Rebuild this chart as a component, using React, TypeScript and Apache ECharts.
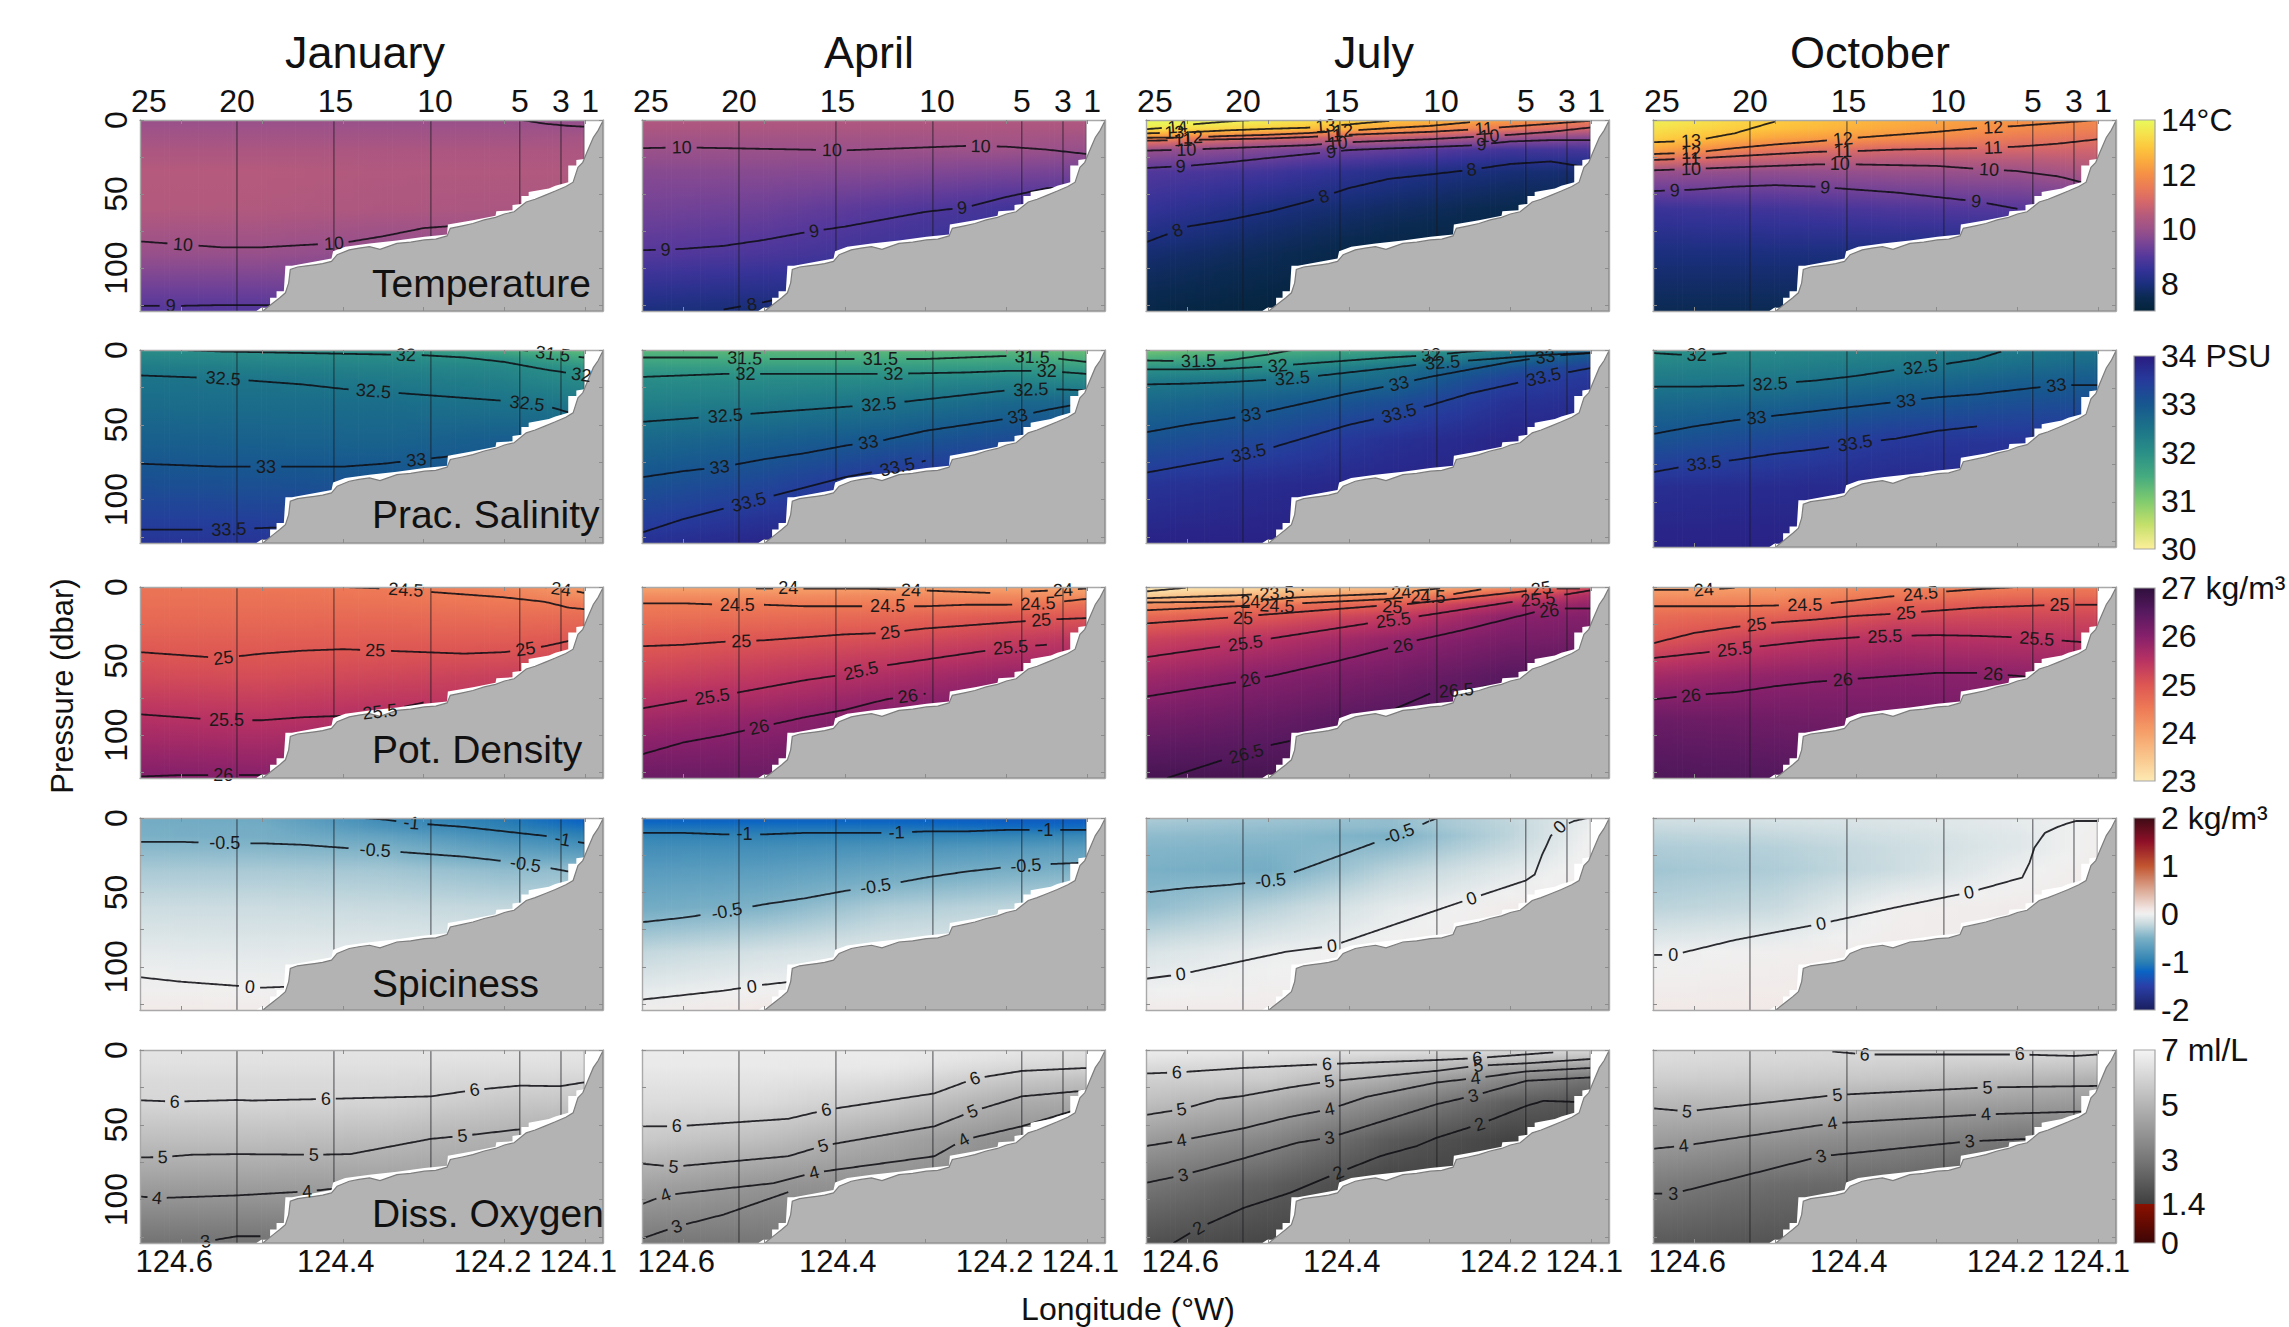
import React, { useEffect, useRef } from "react";
import * as echarts from "echarts";

const FONT = '"Liberation Sans", Arial, sans-serif';
const BASE = 124;
const LON_MIN = 124.078;
const LON_MAX = 124.651;
const P_MAX = 129;

const months = ["January", "April", "July", "October"];
const variables = ["Temperature", "Prac. Salinity", "Pot. Density", "Spiciness", "Diss. Oxygen"];
const lonTicks = [124.6, 124.5, 124.4, 124.3, 124.2, 124.1];
const lonLabels = [124.6, 124.4, 124.206, 124.1];
const stationLons = [124.64, 124.531, 124.409, 124.286, 124.181, 124.13, 124.094];
const stationNames = ["25", "20", "15", "10", "5", "3", "1"];
const stationLines = [124.531, 124.411, 124.291, 124.181, 124.13, 124.101];
const pTicks = [0, 25, 50, 75, 100, 125];
const pLabels = [0, 50, 100];

// seafloor (offset lon, dbar)
const bathyLon = [.499,.486,.478,.471,.467,.465,.456,.445,.435,.425,.414,.407,.392,.38,.367,.354,.333,.316,.299,.285,.271,.267,.252,.239,.225,.211,.2,.188,.173,.162,.15,.137,.124,.115,.109,.103,.098,.09,.084,.078];
const bathyP = [129,123.4,120,116.7,110,101,99.3,98.5,97.8,97,95.5,91,87.7,86.5,85.5,87.3,83.3,82.5,81,80.5,78.3,73.2,71.5,69.9,67.5,65.8,63.5,62,55.4,53.5,50.9,48,44.9,42,32,28.6,22,11.8,7,.5];
// stepped edge of the gridded data (offset lon, dbar)
const maskLon = [.507,.501,.49,.49,.482,.482,.473,.471,.463,.414,.412,.397,.367,.333,.299,.271,.27,.239,.211,.21,.19,.19,.179,.179,.17,.17,.145,.137,.121,.121,.111,.111,.101,.101];
const maskP = [129,126.8,126.8,120,120,115.6,115.6,98.4,98.4,93.6,88.6,85.6,83.4,81.4,78.9,77.4,70.6,67.7,64.6,61.6,61,57.4,56.7,51.4,51.4,48.6,46.2,44.4,42,30.8,30.8,27,26.3,0];

// field table axes
const fieldDepths = [0, 6, 12, 20, 35, 60, 90, 129];
const fieldLons = [.651, .5, .35, .2, .08];

const tempJan = [[9.95,9.95,9.95,9.95,9.85],[10.05,10.05,10.05,10.05,10],[10.15,10.15,10.15,10.15,10.2],[10.3,10.3,10.3,10.3,10.3],[10.5,10.5,10.42,10.42,10.42],[10.45,10.42,10.35,10.3,10.3],[9.95,9.95,9.8,9.8,9.8],[8.95,8.95,9,9,9]];
const tempApr = [[10.4,10.4,10.4,10.4,10.4],[10.3,10.3,10.3,10.3,10.3],[10.15,10.15,10.15,10.2,10.1],[10,10,10,10.05,9.9],[9.7,9.7,9.65,9.5,9.4],[9.4,9.3,9,8.7,8.7],[9,8.85,8.6,8.4,8.4],[8,7.9,8,8,8]];
const tempJul = [[14.3,13.8,13,12.3,11.5],[13.5,13.1,12.3,11.4,10.8],[12,11,10.7,10,9.6],[10,9.6,9.2,8.7,8.8],[8.95,8.7,8.2,7.9,7.8],[8.5,8,7.7,7.4,7.4],[7.85,7.55,7.2,7.1,7.1],[7.3,7.1,7,7,7]];
const tempOct = [[13.8,13.1,12.6,12.1,11.8],[13.5,12.9,12.4,11.9,11.6],[13.2,12.4,12,11.5,11.3],[12.4,11.4,11,11,10.9],[9.95,9.85,9.95,10,10.4],[8.6,8.7,8.9,9,9],[8,8,8,8,8],[7.5,7.5,7.5,7.5,7.5]];

const salJan = [[32.05,32,31.95,31.5,31.2],[32.2,32.15,32.1,31.95,31.5],[32.35,32.3,32.25,32.15,31.9],[32.5,32.48,32.38,32.28,32.05],[32.62,32.6,32.6,32.5,32.4],[32.85,32.82,32.78,32.9,32.9],[33.15,33.12,33.1,33.1,33.1],[33.6,33.6,33.5,33.5,33.5]];
const salApr = [[31.3,31.3,31.3,31.3,31.2],[31.55,31.5,31.5,31.55,31.4],[31.8,31.8,31.8,31.85,31.75],[32.05,32.08,32.1,32.2,32.1],[32.28,32.35,32.48,32.7,32.75],[32.7,32.85,33,33.2,33.3],[33.1,33.3,33.65,33.7,33.7],[33.65,33.85,33.9,33.9,33.9]];
const salJul = [[31.1,31.4,31.7,32.3,32.9],[31.45,31.75,32.05,32.65,33.2],[31.95,32.05,32.5,33.1,33.5],[32.35,32.5,32.7,33.4,33.6],[32.7,32.9,33.15,33.65,33.7],[33.1,33.3,33.65,33.85,33.85],[33.6,33.75,33.85,33.9,33.9],[33.9,33.9,33.9,33.9,33.9]];
const salOct = [[32,32.1,32.2,32.4,32.55],[32.1,32.2,32.3,32.5,32.65],[32.25,32.3,32.45,32.65,32.8],[32.4,32.45,32.65,32.85,32.95],[32.7,32.8,33,33.15,33.2],[33.1,33.3,33.55,33.6,33.6],[33.7,33.75,33.8,33.8,33.8],[33.9,33.9,33.9,33.9,33.9]];

const denJan = [[24.6,24.55,24.5,24.3,24],[24.62,24.6,24.55,24.45,24.2],[24.66,24.65,24.62,24.55,24.5],[24.72,24.72,24.72,24.68,24.7],[24.88,24.88,24.9,24.9,25],[25.15,25.12,25.2,25.3,25.4],[25.55,25.5,25.6,25.6,25.6],[26.05,26,26,26,26]];
const denApr = [[23.95,23.95,24,23.95,23.9],[24.25,24.25,24.3,24.3,24.2],[24.5,24.5,24.5,24.55,24.7],[24.62,24.67,24.75,24.95,25],[24.9,25,25.1,25.3,25.5],[25.25,25.4,25.6,25.85,25.9],[25.75,25.9,26.1,26.25,26.3],[26.3,26.3,26.4,26.5,26.5]];
const denJul = [[22.9,23.2,23.6,24.2,25.4],[23.4,23.8,24.25,25.05,25.75],[24.2,24.55,24.9,25.6,25.95],[24.75,25,25.35,25.95,26.05],[25.25,25.5,25.85,26.15,26.2],[25.75,26,26.2,26.5,26.5],[26.2,26.35,26.55,26.6,26.6],[26.7,26.7,26.7,26.7,26.7]];
const denOct = [[23.95,24.05,24.35,24.45,24.5],[24.2,24.25,24.55,24.7,24.7],[24.45,24.5,24.85,25,25],[24.7,24.85,25.15,25.2,25.2],[24.97,25.35,25.55,25.5,25.45],[25.7,25.9,25.98,25.95,25.9],[26.3,26.25,26.2,26.2,26.2],[26.6,26.55,26.5,26.5,26.5]];

const spiJan = [[-.55,-.58,-.9,-1.05,-1.3],[-.52,-.54,-.8,-.98,-1.15],[-.5,-.52,-.65,-.85,-1],[-.44,-.46,-.5,-.7,-.8],[-.32,-.32,-.34,-.42,-.4],[-.18,-.18,-.2,-.22,-.2],[-.06,-.07,-.06,-.06,-.06],[.06,.05,.05,.05,.05]];
const spiApr = [[-1.25,-1.25,-1.25,-1.3,-1.3],[-1.1,-1.1,-1.1,-1.15,-1.15],[-.95,-.97,-.95,-.95,-.9],[-.85,-.85,-.8,-.75,-.7],[-.72,-.7,-.6,-.52,-.48],[-.55,-.48,-.3,-.24,-.2],[-.22,-.14,-.08,-.08,-.08],[.03,.08,.05,.05,.05]];
const spiJul = [[-.3,-.35,-.4,-.22,0],[-.36,-.4,-.42,-.24,.03],[-.42,-.44,-.5,-.24,.05],[-.46,-.48,-.42,-.2,.06],[-.5,-.53,-.26,-.08,.06],[-.42,-.26,-.06,.05,.06],[-.12,-.03,.03,.05,.05],[.05,.05,.05,.05,.05]];
const spiOct = [[-.15,-.12,-.1,-.05,.03],[-.2,-.17,-.12,-.06,.03],[-.25,-.22,-.15,-.08,.05],[-.3,-.27,-.18,-.08,.05],[-.35,-.3,-.18,-.02,.06],[-.25,-.2,.02,.05,.06],[-.02,.02,.05,.05,.05],[.07,.07,.07,.07,.07]];

const oxyJan = [[6.5,6.5,6.5,6.55,6.55],[6.45,6.45,6.45,6.45,6.45],[6.35,6.35,6.35,6.3,6.3],[6.2,6.2,6.2,6.1,6],[6.05,6.05,6,5.6,5.5],[5.3,5.3,5.2,4.8,4.5],[4.3,4.3,4.3,4.3,4.3],[2.9,2.9,2.9,2.9,2.9]];
const oxyApr = [[6.75,6.75,6.7,6.6,6.4],[6.7,6.7,6.7,6.4,6.2],[6.65,6.65,6.6,6.1,5.9],[6.5,6.5,6.3,5.6,5.3],[6.25,6.2,5.7,4.8,4.5],[5.65,5.3,4.6,3.8,3.6],[4.45,4,3.8,3.5,3.5],[3.05,3,3,3,3]];
const oxyJul = [[6.8,6.6,6.45,6.2,6.1],[6.5,6.3,5.8,5.4,5.2],[6.15,6,5.4,4.5,4],[5.85,5.7,4.7,3.5,2.7],[5.35,4.75,3.55,2.3,1.9],[4.2,3.5,2.2,1.5,1.5],[3,2.3,1.5,1.5,1.5],[1.9,1.6,1.5,1.5,1.5]];
const oxyOct = [[6.3,6.2,6.1,6.15,6.05],[6.2,6.1,6,5.95,5.8],[6.05,5.95,5.8,5.6,5.4],[5.8,5.7,5.5,5.1,4.8],[5.15,5.1,4.6,4.3,4.1],[4.25,3.9,3.5,3,3],[3.2,2.7,2.5,2,2],[2.2,2,2,2,2]];

type C = { v: number; lon: number[]; p: number[]; at: number[] };
const L = [.651,.6,.55,.5,.45,.4,.35,.3,.25,.2,.15,.1];
const g = (v: number, ps: (number | null)[], at: number[]): C => {
  const lon: number[] = [], p: number[] = [];
  ps.forEach((q, i) => { if (q !== null) { lon.push(L[i]); p.push(q); } });
  return { v, lon, p, at };
};
const e = (v: number, lon: number[], p: number[], at: number[] = []): C => ({ v, lon, p, at });
const n = null;

const tempJanC = [
  e(10,[.179,.15,.12,.101],[0,2.5,4,4.5]),
  g(10,[82,84,86,86,84.5,83,78.5,73,71,n,n,n],[.598,.411]),
  g(9,[125.5,125.5,125,125,125,n,n,n,n,n,n,n],[.613]),
];
const tempAprC = [
  g(10,[19,18.5,19,19.5,20,20.5,19.5,18.5,17.5,18,20,23],[.602,.416,.232]),
  g(9,[88,87,85,81,76,72,67,62,59,52,46,45],[.622,.438,.255]),
  g(8,[n,n,128,123,117,n,n,n,n,n,n,n],[.515]),
];
const tempJulC = [
  e(14,[.651,.612,.595,.55,.52],[6.2,4.6,3,1,0],[.612]),
  e(13,[.651,.6,.55,.5,.45,.43,.4,.36,.35],[9,8.3,7,6,5.2,4,3,1,.7],[.616,.429]),
  g(12,[12,11.8,10.8,10,8.8,7.2,5.5,4,1.5,n,n,n],[.593,.407]),
  g(11,[14,13.5,13,12.5,11.5,10,9,8,6.5,4.5,2.5,.5],[.605,.42,.233]),
  g(10,[20.7,20,19,18,17,15,14,13,11.5,10,8,5],[.601,.414,.226]),
  g(9,[32.4,31,28.6,25.7,23,20.3,19.2,18.3,17.2,14.5,13.6,13.6],[.608,.422,.236]),
  g(8,[82.6,72,67.6,62,55,46,39.7,36.8,33.7,29.7,28,32.4],[.612,.431,.248]),
];
const tempOctC = [
  g(13,[15,14,9,1,n,n,n,n,n,n,n,n],[.604]),
  g(12,[23,22,19,16.5,14.5,12,10,8,5.5,4,2,0],[.604,.416,.23]),
  g(11,[27,26,24.5,23,21.5,21,20,19.5,19,18,16,13],[.604,.416,.23]),
  g(10,[34,33,32,31,30,30,30.5,31,33,34.5,38,45],[.604,.42,.235]),
  g(9,[48,47,45,44,45,47,49,52,55,60,n,n],[.624,.438,.251]),
];

const salJanC = [
  e(31.5,[.18,.15,.12,.101],[0,2,4,5],[.14]),
  e(32,[.6,.55,.5,.45,.4,.35,.3,.25,.2,.15,.1],[0,1,1.5,2,2.5,3,3.5,5,8,13,17],[.322,.105]),
  g(32.5,[17,18,19,21,23,26,28,30,32,34,37,45],[.548,.362,.172]),
  g(33,[76,77,78,78,78,78,76,73,70,68,n,n],[.495,.309]),
  g(33.5,[120,120,120,119,118,n,n,n,n,n,n,n],[.541]),
];
const salAprC = [
  g(31.5,[5,5,5,6,6,6,6,6,5,4,5,8],[.524,.356,.168]),
  g(32,[18,17,16,16,16,16,16,15.5,15,14,14,16],[.523,.34,.15]),
  g(32.5,[48,46,44,42,40,38,36,33,30,27,26,27],[.548,.358,.17]),
  g(33,[85,81,78,73,69,64,60,54,50,46,40,35],[.555,.371,.186]),
  g(33.5,[122,113,106,99,92,85,80,74,n,n,n,n],[.519,.335]),
];
const salJulC = [
  e(31.5,[.651,.6,.55,.5,.47],[7,7.5,7,3,0],[.586]),
  e(32,[.651,.6,.55,.5,.45,.4,.35,.3,.25,.22],[13,13,12.5,11,9,7,5,3.5,1,0],[.488,.298]),
  g(32.5,[23,22.5,21.5,20,18,15,12,9,7,5,3,2],[.47,.284]),
  g(33,[55,50,46,41,35,29,24,18,13,8,4,2],[.521,.338,.157]),
  g(33.5,[82,77,72,66,58,50,44,37,29,23,17,12],[.524,.338,.159]),
];
const salOctC = [
  e(32,[.651,.62,.58,.56],[2,3,3,2],[.597]),
  e(32.5,[.651,.6,.55,.5,.45,.4,.35,.3,.25,.22],[24,24,23.5,22,20,17,13,10,6,1],[.506,.32]),
  g(33,[55,50,46,43,40,37,34,31,29,26,23,23],[.523,.338,.152]),
  g(33.5,[80,75,72,68,65,61,58,53,50,n,n,n],[.588,.401]),
];

const denJanC = [
  e(24,[.15,.13,.12,.101],[0,1.5,2,4],[.13]),
  e(24.5,[.4,.35,.32,.3,.25,.2,.15,.12,.1],[0,1,2,3,5,7,10,14,15],[.322]),
  g(25,[44,46,48,45,43,42,43,44,45,44,40,34],[.548,.36,.174]),
  g(25.5,[86,88,90,90,88,87,84,78,n,n,n,n],[.544,.354]),
  g(26,[128,127,127,127,n,n,n,n,n,n,n,n],[.548]),
];
const denAprC = [
  e(24,[.51,.47,.43,.38,.32,.27,.22],[1,1,1,1,2,3,4],[.47,.318]),
  e(24,[.17,.13,.1],[3,2,1],[.13]),
  g(24.5,[11,11,12,12,13,13,13,13,12,12,11,8],[.533,.347,.161]),
  g(25,[40,39,37,36,34,32,31,28,26,24,22,21],[.528,.344,.157]),
  g(25.5,[82,77,73,68,63,59,53,49,45,41,39,n],[.564,.38,.195]),
  g(26,[113,105,100,94,88,83,76,72,n,n,n,n],[.506,.322]),
];
const denJulC = [
  e(23,[.651,.602],[3,.5]),
  e(23.5,[.651,.539,.489,.456],[7.6,5.6,4.2,2],[.489]),
  e(24,[.651,.539,.522,.464,.353,.335,.308,.287],[10.5,9.8,9.8,7,4.5,3.8,2,.9],[.522,.335]),
  e(24.5,[.651,.51,.489,.46,.357,.328,.302,.273,.236],[15.7,12.3,12.8,11,8.3,7,7,5,1.6],[.489,.302]),
  e(25,[.651,.547,.531,.512,.363,.346,.328,.18,.162,.114],[24.6,20.6,21,19,12.7,13.4,11.6,2.7,1,1],[.531,.346,.162]),
  e(25.5,[.651,.557,.528,.499,.374,.345,.316,.19,.166,.131,.1],[47.4,40,38,35,24.4,22.4,20,9.4,8.3,5,2.2],[.528,.345,.166]),
  e(26,[.651,.53,.522,.495,.411,.349,.333,.316,.258,.17,.152,.135,.1],[74,63.5,62.4,60,49.6,41,39.6,36,29,17,16,14.5,14.5],[.522,.333,.152]),
  e(26.5,[.625,.557,.527,.499,.473],[129,117,112.7,107,104],[.527]),
  e(26.5,[.361,.295,.267,.238,.211],[86.5,71,69.8,67.5,66.4],[.267]),
];
const denOctC = [
  e(24,[.651,.59,.55],[2,2,.5],[.588]),
  g(24.5,[13,13,13,12.5,12,9,6,3.5,1.5,0,n,n],[.463,.32]),
  g(25,[38,31,27,24,22,19.5,18,16,14,13,12,12],[.523,.338,.148]),
  g(25.5,[48,45,42,39,36,34,33,32.5,33,34,36,38],[.55,.364,.176]),
  g(26,[76,73,71,67,64,62,60,58,58,60,63,66],[.604,.416,.23]),
];

const spiJanC = [
  e(-1,[.375,.35,.32,.3,.25,.2,.15,.12,.1],[0,1,3,4,6,9,12,15,17],[.315,.128]),
  g(-.5,[16,16,17,17,18,20,22,24,26,29,33,38],[.546,.36,.174]),
  g(0,[107,110,112,114,113,112,n,n,n,n,n,n],[.515]),
];
const spiAprC = [
  g(-1,[10,10,11,11,10,10,10,9,9,8,8,8],[.524,.336,.152]),
  g(-.5,[70,67,63,58,54,49,45,40,36,33,31,30],[.546,.362,.176]),
  g(0,[122,119,116,112,109,n,n,n,n,n,n,n],[.515]),
];
const spiJulC = [
  e(-.5,[.651,.6,.55,.497,.45,.4,.35,.32,.3,.29],[50,47,45,42,33,23,13,7,2,0],[.497,.338]),
  e(0,[.651,.608,.479,.421,.335,.248,.181,.17,.161,.155,.15,.139,.121,.105],[108,105,90,86,70,54,42,38,25,18,12,6,2,0],[.608,.421,.248,.139]),
];
const spiOctC = [
  e(0,[.651,.626,.55,.443,.35,.26,.194,.185,.179,.166,.15,.14,.127,.101],[92,92,82,71,60,50,40,30,20,10,6,4,2,2],[.626,.443,.26]),
];

const oxyJanC = [
  e(6,[.651,.608,.531,.512,.421,.291,.237,.181,.131,.101],[33.6,34.5,33.4,33.8,32.7,31,26.7,23.8,24.2,21.6],[.608,.421,.237]),
  e(5,[.651,.623,.587,.531,.436,.391,.291,.252,.181],[71.8,71.6,70,69.6,70,69.6,59.4,57.4,53],[.623,.436,.252]),
  e(4,[.651,.63,.531,.444,.411],[97.9,99,97.2,94.5,92.7],[.63,.444]),
  e(3,[.58,.57,.531,.502],[129,128,124.5,124.5],[.57]),
];
const oxyAprC = [
  e(6,[.651,.608,.47,.423,.289,.239,.181,.1],[51,51,46,40,29,19,14,12],[.608,.423,.239]),
  e(5,[.651,.612,.47,.427,.289,.242,.181,.1],[76,78,71,64,51,41,31,27],[.612,.427,.242]),
  e(4,[.651,.622,.488,.438,.289,.253,.181,.12],[103,97,89,82,71,60,51,41],[.622,.438,.253]),
  e(3,[.651,.608,.55,.47],[126,118,110,95],[.608]),
];
const oxyJulC = [
  e(6,[.651,.613,.53,.427,.291,.241,.147],[15.7,15,12,9.4,6.7,5.4,1.6],[.613,.427,.241]),
  e(5,[.651,.607,.563,.53,.473,.424,.291,.24,.18,.1],[43.4,39.6,32.9,30.6,25,21,13.9,10.5,8.9,6],[.607,.424,.24]),
  e(4,[.651,.607,.53,.473,.424,.378,.291,.243,.18,.1],[64.2,60.4,52.3,44.7,39.6,31.3,21.7,18.8,14.3,12],[.607,.424,.243]),
  e(3,[.651,.605,.53,.464,.424,.291,.246,.18,.1],[88.8,83.6,72.4,62,58.6,36.2,30.6,20.6,18.3],[.605,.424,.246]),
  e(2,[.617,.586,.53,.473,.413,.361,.316,.291,.238,.18,.159,.12],[129,119,105.5,95.5,82,70.9,64.2,58.6,49.6,37.3,34,34.7],[.586,.413,.238]),
];
const oxyOctC = [
  e(6,[.429,.389,.239,.197,.13,.1],[1,3,3,3,4,3],[.389,.197]),
  e(5,[.651,.609,.423,.237,.1],[39,41,30,25,24],[.609,.423,.237]),
  e(4,[.651,.613,.429,.239,.112],[66,64,49,43,41],[.613,.429,.239]),
  e(3,[.651,.626,.443,.259,.167],[96,96,71,61,59],[.626,.443,.259]),
];

const fields = [
  [tempJan, tempApr, tempJul, tempOct],
  [salJan, salApr, salJul, salOct],
  [denJan, denApr, denJul, denOct],
  [spiJan, spiApr, spiJul, spiOct],
  [oxyJan, oxyApr, oxyJul, oxyOct],
];
const contours = [
  [tempJanC, tempAprC, tempJulC, tempOctC],
  [salJanC, salAprC, salJulC, salOctC],
  [denJanC, denAprC, denJulC, denOctC],
  [spiJanC, spiAprC, spiJulC, spiOctC],
  [oxyJanC, oxyAprC, oxyJulC, oxyOctC],
];

type Stop = [number, string];
const thermal: Stop[] = [[7,"#03233a"],[7.5,"#0b2a52"],[8,"#1b2f7e"],[8.5,"#343297"],[9,"#55389b"],[9.5,"#7a4595"],[10,"#9b5189"],[10.5,"#b55a7c"],[11,"#d5676a"],[11.5,"#ea7a57"],[12,"#f58f47"],[12.5,"#fbab3e"],[13,"#fdc73d"],[13.5,"#f6e24c"],[14,"#e8fa5b"]];
const haline: Stop[] = [[30,"#fdef9a"],[30.5,"#c5e06b"],[31,"#7fcb6e"],[31.5,"#45ab7f"],[32,"#2a8f87"],[32.5,"#1c7389"],[33,"#17578f"],[33.5,"#263a9c"],[34,"#2a1c80"]];
const matter: Stop[] = [[23,"#fde9b2"],[23.5,"#f9c58c"],[24,"#f6a06a"],[24.5,"#ee7a56"],[25,"#dd5653"],[25.5,"#b83263"],[26,"#86206b"],[26.5,"#57195f"],[27,"#2f0f3d"]];
const balance: Stop[] = [[-2,"#1a1f5e"],[-1.5,"#2a3fa8"],[-1.2,"#0a64c4"],[-1,"#2c80b3"],[-.5,"#7ab0c6"],[-.2,"#c8dadf"],[0,"#f0f0f0"],[.1,"#f1e6e4"],[.5,"#dca994"],[1,"#c25530"],[1.5,"#8f1028"],[2,"#3d0b15"]];
const oxygen: Stop[] = [[0,"#3d0505"],[1.4,"#8a1000"],[1.4,"#3f3f3f"],[3,"#767676"],[5,"#b4b4b4"],[7,"#f4f4f4"]];
const colormaps = [thermal, haline, matter, balance, oxygen];
const barRanges = [[7,14],[30,34],[23,27],[-2,2],[0,7]];
const barValues = [[14,12,10,8],[34,33,32,31,30],[27,26,25,24,23],[2,1,0,-1,-2],[7,5,3,1.4,0]];
const barUnits = ["°C", " PSU", " kg/m³", " kg/m³", " ml/L"];

// layout
const colLeft = [140, 642, 1146, 1653];
const panelW = 463;
const rowTop = [120, 350, 587, 818, 1050];
const rowH = [191, 193, 191, 192, 193];
const barLeft = 2134;
const barW = 21;
const barTop = [120, 356, 588, 818, 1050];
const barH = [191, 193, 193, 192, 193];
const labelY = [283, 514, 749, 983, 1213];
const sampleDepths = [0,3,6,9,12,16,20,27,35,43,51,60,70,80,90,103,116,129];

const hex = (s: string) => [1, 3, 5].map((i) => parseInt(s.slice(i, i + 2), 16));
function colorAt(map: Stop[], v: number) {
  if (v <= map[0][0]) return map[0][1];
  for (let i = 1; i < map.length; i++) {
    const [a, ca] = map[i - 1], [b, cb] = map[i];
    if (v <= b && b > a) {
      const t = (v - a) / (b - a), A = hex(ca), B = hex(cb);
      return `rgb(${A.map((x, k) => Math.round(x + (B[k] - x) * t)).join(",")})`;
    }
  }
  return map[map.length - 1][1];
}
function bracket(arr: number[], x: number, desc: boolean) {
  for (let i = 0; i < arr.length - 1; i++) {
    const a = arr[i], b = arr[i + 1];
    if (desc ? x >= b : x <= b) return { i, t: Math.min(1, Math.max(0, (x - a) / (b - a))) };
  }
  return { i: arr.length - 2, t: 1 };
}
function fieldAt(tab: number[][], lon: number, p: number) {
  const X = bracket(fieldLons, lon, true), Y = bracket(fieldDepths, p, false);
  const v = (r: number) => tab[r][X.i] * (1 - X.t) + tab[r][X.i + 1] * X.t;
  return v(Y.i) * (1 - Y.t) + v(Y.i + 1) * Y.t;
}
const stripEdges: number[][] = [];
for (let x = 0.651; x > 0.078; x -= 0.006) stripEdges.push([BASE + x, BASE + Math.max(0.078, x - 0.006)]);

const fieldSeries = (tab: number[][], map: Stop[], idx: number) => ({
  type: "custom", silent: true, z: 1, clip: true, xAxisIndex: idx, yAxisIndex: idx, data: stripEdges,
  renderItem: (_: any, api: any) => {
    const a = api.value(0), b = api.value(1);
    const p0 = api.coord([a, 0]), p1 = api.coord([b, P_MAX]);
    const stops = sampleDepths.map((d) => ({ offset: d / P_MAX, color: colorAt(map, fieldAt(tab, (a + b) / 2 - BASE, d)) }));
    return {
      type: "rect",
      shape: { x: p0[0], y: p0[1], width: p1[0] - p0[0] + 0.7, height: p1[1] - p0[1] },
      style: { fill: new echarts.graphic.LinearGradient(0, 0, 0, 1, stops) },
    };
  },
});

function contourGeometry(c: C, api: any) {
  const pts = c.lon.map((l, i) => api.coord([BASE + l, c.p[i]]));
  const labels = c.at.map((at) => {
    let bi = 0, bt = 0, best = Infinity;
    for (let i = 0; i < c.lon.length - 1; i++) {
      const a = c.lon[i], b = c.lon[i + 1];
      const t = Math.min(1, Math.max(0, (at - a) / (b - a || 1)));
      const d = Math.abs(a + (b - a) * t - at);
      if (d < best - 1e-9) { best = d; bi = i; bt = t; }
    }
    const A = pts[bi], B = pts[bi + 1] || A;
    let ang = -Math.atan2(B[1] - A[1], B[0] - A[0]);
    if (Math.abs(ang) > 1) ang = 0;
    return { x: A[0] + (B[0] - A[0]) * bt, y: A[1] + (B[1] - A[1]) * bt, ang };
  });
  return { pts, labels, text: String(c.v) };
}
const LABEL_SIZE = 18;
const halfW = (t: string) => (t.length * 0.29 * LABEL_SIZE) + 4;

const lineSeries = (cs: C[], idx: number) => ({
  type: "custom", silent: true, z: 2, clip: true, xAxisIndex: idx, yAxisIndex: idx, data: [[124.3, 60]],
  renderItem: (_: any, api: any) => {
    const children: any[] = [];
    stationLines.forEach((l) => {
      const a = api.coord([l, 0]), b = api.coord([l, P_MAX]);
      children.push({ type: "line", shape: { x1: a[0], y1: a[1], x2: b[0], y2: b[1] }, style: { stroke: "rgba(25,25,30,0.62)", lineWidth: 1.2 } });
    });
    cs.forEach((c) => {
      const { pts, labels, text } = contourGeometry(c, api);
      const r = halfW(text);
      let run: number[][] = [];
      const flush = () => {
        if (run.length > 1) children.push({ type: "polyline", shape: { points: run }, style: { stroke: "rgba(15,15,20,0.88)", lineWidth: 1.8, fill: "none" } });
        run = [];
      };
      for (let i = 0; i < pts.length - 1; i++) {
        const A = pts[i], B = pts[i + 1];
        const len = Math.hypot(B[0] - A[0], B[1] - A[1]);
        const k = Math.max(1, Math.ceil(len / 2));
        for (let j = 0; j <= k; j++) {
          const q = [A[0] + (B[0] - A[0]) * j / k, A[1] + (B[1] - A[1]) * j / k];
          const hit = labels.some((lb) => Math.hypot(q[0] - lb.x, q[1] - lb.y) < r);
          if (hit) flush(); else run.push(q);
        }
      }
      flush();
    });
    return { type: "group", children };
  },
});

const polySeries = (lons: number[], ps: number[], fill: string, stroke: string, z: number, idx: number) => ({
  type: "custom", silent: true, z, clip: true, xAxisIndex: idx, yAxisIndex: idx, data: [[124.3, 60]],
  renderItem: (_: any, api: any) => ({
    type: "polygon",
    shape: { points: lons.map((l, i) => api.coord([BASE + l, ps[i]])) },
    style: { fill, stroke, lineWidth: stroke === "none" ? 0 : 1.2 },
  }),
});

const labelSeries = (cs: C[], idx: number) => ({
  type: "custom", silent: true, z: 5, clip: false, xAxisIndex: idx, yAxisIndex: idx, data: [[124.3, 60]],
  renderItem: (_: any, api: any) => {
    const children: any[] = [];
    cs.forEach((c) => {
      const { labels, text } = contourGeometry(c, api);
      labels.forEach((lb) => children.push({
        type: "text", x: lb.x, y: lb.y, rotation: lb.ang,
        style: { x: 0, y: 0, text, fill: "#1a1a1a", font: `${LABEL_SIZE}px ${FONT}`, align: "center", verticalAlign: "middle" },
      }));
    });
    return { type: "group", children };
  },
});

function buildOption() {
  const grid: any[] = [], xAxis: any[] = [], yAxis: any[] = [], series: any[] = [];
  const border = { show: true, onZero: false, lineStyle: { color: "#a9a9a9", width: 1.4 } };
  const tick = { show: true, inside: true, length: 4, lineStyle: { color: "#8c8c8c", width: 1 } };
  const lblFont = { fontFamily: FONT, fontSize: 32, color: "#111" };
  const bottomFont = { fontFamily: FONT, fontSize: 31, color: "#111" };
  fields.forEach((row, r) => row.forEach((tab, c) => {
    const top = rowTop[r];
    const h = r === 1 && c === 3 ? rowH[r] + 4 : rowH[r];
    grid.push({ left: colLeft[c], top, width: panelW, height: h, show: false });
    const gi = grid.length - 1;
    const xi = xAxis.length;
    xAxis.push({
      type: "value", gridIndex: gi, position: "bottom", inverse: true, min: LON_MIN, max: LON_MAX, z: 10,
      axisLine: border, splitLine: { show: false }, axisTick: { ...tick, customValues: lonTicks },
      axisLabel: r === 4
        ? { show: true, customValues: lonLabels, margin: 3, padding: [0, 14, 0, 0], formatter: (v: number) => v.toFixed(1), ...bottomFont }
        : { show: false },
    });
    xAxis.push({
      type: "value", gridIndex: gi, position: "top", inverse: true, min: LON_MIN, max: LON_MAX, z: 10,
      axisLine: border, splitLine: { show: false }, axisTick: { ...tick, customValues: lonTicks },
      axisLabel: r === 0
        ? { show: true, customValues: stationLons, margin: 3,
            formatter: (v: number) => stationNames[stationLons.findIndex((s) => Math.abs(s - v) < 1e-6)] ?? "", ...lblFont }
        : { show: false },
    });
    const yi = yAxis.length;
    yAxis.push({
      type: "value", gridIndex: gi, position: "left", inverse: true, min: 0, max: P_MAX, z: 10,
      axisLine: border, splitLine: { show: false }, axisTick: { ...tick, customValues: pTicks },
      axisLabel: c === 0
        ? { show: true, customValues: pLabels, rotate: 90, margin: 8, formatter: (v: number) => String(v), ...lblFont }
        : { show: false },
    });
    yAxis.push({
      type: "value", gridIndex: gi, position: "right", inverse: true, min: 0, max: P_MAX, z: 10,
      axisLine: border, splitLine: { show: false }, axisTick: { ...tick, customValues: pTicks }, axisLabel: { show: false },
    });
    const cs = contours[r][c];
    const common = { xAxisIndex: xi, yAxisIndex: yi };
    const maskLons = [...maskLon, .078, .078];
    const maskPs = [...maskP, 0, P_MAX];
    const bLons = [...bathyLon, .078];
    const bPs = [...bathyP, P_MAX];
    [
      fieldSeries(tab, colormaps[r], 0),
      lineSeries(cs, 0),
      polySeries(maskLons, maskPs, "#ffffff", "none", 3, 0),
      polySeries(bLons, bPs, "#b3b3b3", "#7d7d7d", 4, 0),
      labelSeries(cs, 0),
    ].forEach((s) => series.push({ ...s, ...common }));
  }));

  // colour bars
  colormaps.forEach((map, i) => {
    grid.push({ left: barLeft, top: barTop[i], width: barW, height: barH[i], show: false });
    const gi = grid.length - 1;
    const [lo, hi] = barRanges[i];
    const xi = xAxis.length, yi = yAxis.length;
    xAxis.push({ type: "value", gridIndex: gi, min: 0, max: 1, show: false });
    yAxis.push({
      type: "value", gridIndex: gi, position: "right", min: lo, max: hi, z: 10,
      axisLine: { show: false }, splitLine: { show: false },
      axisTick: { show: false },
      axisLabel: {
        show: true, customValues: barValues[i], margin: 6, align: "left", fontFamily: FONT, fontSize: 32, color: "#111",
        formatter: (v: number) => (v === barValues[i][0] ? `${v}${barUnits[i]}` : String(v)),
      },
    });
    series.push({
      type: "custom", silent: true, z: 1, xAxisIndex: xi, yAxisIndex: yi, data: [[0.5, (lo + hi) / 2]],
      renderItem: (_: any, api: any) => {
        const a = api.coord([0, hi]), b = api.coord([1, lo]);
        const stops = [...map].reverse().map(([v, col]) => ({ offset: (hi - v) / (hi - lo), color: col }));
        return {
          type: "rect", shape: { x: a[0], y: a[1], width: b[0] - a[0], height: b[1] - a[1] },
          style: { fill: new echarts.graphic.LinearGradient(0, 0, 0, 1, stops), stroke: "#a5a5a5", lineWidth: 1.2 },
        };
      },
    });
  });

  const text = (t: string, x: number, y: number, size: number, extra: any = {}) => ({
    type: "text", x, y, z: 30, silent: true, ...extra,
    style: { text: t, x: 0, y: 0, font: `${size}px ${FONT}`, fill: "#111", align: extra.align || "center", verticalAlign: "middle" },
  });
  const titleX = [365, 869, 1374, 1870];
  const elements = [
    ...months.map((m, i) => text(m, titleX[i], 52, 45)),
    ...variables.map((v, i) => text(v, 372, labelY[i], 39, { align: "left" })),
    text("Pressure (dbar)", 62, 686, 31, { rotation: Math.PI / 2 }),
    text("Longitude (°W)", 1128, 1309, 32),
  ];
  return { animation: false, backgroundColor: "#fff", grid, xAxis, yAxis, series, graphic: { elements } };
}

export default function App() {
  const ref = useRef<HTMLDivElement>(null);
  useEffect(() => {
    const chart = echarts.init(ref.current!, undefined, { renderer: "svg" });
    chart.setOption(buildOption() as any);
    return () => chart.dispose();
  }, []);
  return <div ref={ref} style={{ position: "absolute", left: 0, top: 0, width: 2289, height: 1327 }} />;
}
